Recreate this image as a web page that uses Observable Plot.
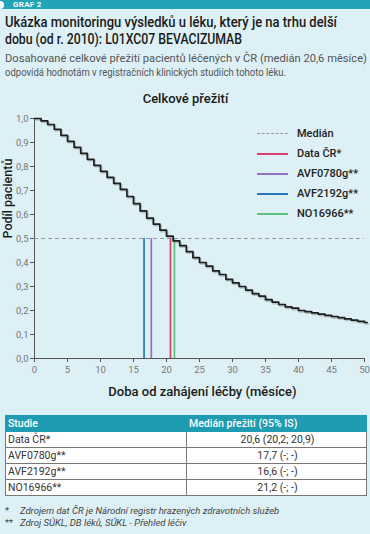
<!DOCTYPE html>
<html><head><meta charset="utf-8">
<script src="https://cdn.jsdelivr.net/npm/d3@7"></script>
<script src="https://cdn.jsdelivr.net/npm/@observablehq/plot@0.6"></script>
<style>
body{margin:0;}
#page{position:relative;width:370px;height:534px;background:#ddf0f5;overflow:hidden;font-family:Roboto,"DejaVu Sans Condensed",sans-serif;color:#1a1a1a;}
#bar{position:absolute;left:0;top:0;width:370px;height:9px;background:#22a3b6;}
#bar .dot{position:absolute;left:-4px;top:0.5px;width:8px;height:8px;border-radius:50%;background:#fff;}
#bar .t{position:absolute;left:13px;top:0;font-size:8px;line-height:9px;font-weight:bold;color:#fff;letter-spacing:0.3px;}
.fit{display:block;white-space:nowrap;transform-origin:0 50%;width:max-content;}
#title{position:absolute;left:5px;top:14px;font-size:14.5px;line-height:17px;font-weight:500;}
#sub{position:absolute;left:5px;top:52px;font-size:11px;line-height:14px;color:#555;}
#chart{position:absolute;left:0;top:82px;}
#legend{position:absolute;left:257px;top:126px;font-size:11px;font-weight:500;color:#222;}
#legend .row{position:relative;height:20px;}
#legend .ln{position:absolute;left:0;top:7px;width:31px;height:1.6px;}
#legend .dash{position:absolute;left:0;top:7px;width:31px;height:0;border-top:1px dashed #9a9a9a;}
#legend .lb{position:absolute;left:40px;top:0;line-height:15px;white-space:nowrap;}
#tbl{position:absolute;left:5px;top:415px;width:362px;border-collapse:collapse;font-size:10.5px;}
#tbl td,#tbl th{height:15px;padding:0 0 0 2px;border:1px solid #777;line-height:15px;}
#tbl th{background:#1f9cb1;color:#fff;text-align:left;font-weight:500;border-color:#1f9cb1;}
#tbl td{background:#fff;color:#333;}
#tbl td.v{text-align:center;}
#notes{position:absolute;left:5px;top:505px;font-size:9.5px;line-height:12px;font-style:italic;color:#444;}
#notes span{display:inline-block;width:15px;font-style:normal;}
</style></head><body>
<div id="page">
  <div id="bar"><div class="dot"></div><div class="t">GRAF 2</div></div>
  <div id="title"><span class="fit" data-w="332">Ukázka monitoringu výsledků u léku, který je na trhu delší</span><span class="fit" data-w="237">dobu (od r. 2010): L01XC07 BEVACIZUMAB</span></div>
  <div id="sub"><span class="fit" data-w="362">Dosahované celkové přežití pacientů léčených v ČR (medián 20,6 měsíce)</span><span class="fit" data-w="281">odpovídá hodnotám v registračních klinických studiích tohoto léku.</span></div>
  <div id="chart"></div>
  <div id="legend"></div>
  <table id="tbl"></table>
  <div id="notes"><span>*</span>Zdrojem dat ČR je Národní registr hrazených zdravotních služeb<br><span>**</span>Zdroj SÚKL, DB léků, SÚKL - Přehled léčiv</div>
</div>
<script>
// Survival curve (Kaplan–Meier, monthly steps)
const months = [0,1,2,3,4,5,6,7,8,9,10,11,12,13,14,15,16,17,18,19,20,21,22,23,24,25,26,27,28,29,30,31,32,33,34,35,36,37,38,39,40,41,42,43,44,45,46,47,48,49,50,50.4];
const survival = [1.00,0.99,0.975,0.955,0.93,0.905,0.88,0.855,0.83,0.805,0.78,0.755,0.73,0.705,0.675,0.645,0.615,0.585,0.56,0.535,0.51,0.49,0.47,0.445,0.42,0.40,0.385,0.365,0.35,0.33,0.315,0.30,0.285,0.27,0.26,0.245,0.235,0.225,0.215,0.21,0.20,0.195,0.19,0.185,0.18,0.175,0.17,0.165,0.16,0.155,0.15,0.15];
// Studies and median survival
const studies = ["Data ČR*","AVF0780g**","AVF2192g**","NO16966**"];
const medians = [20.6,17.7,16.6,21.2];
const medianText = ["20,6 (20,2; 20,9)","17,7 (-; -)","16,6 (-; -)","21,2 (-; -)"];
const colors = ["#d8416a","#9473c2","#2877c0","#5cc27a"];
const medianLevel = 0.5;
const xTicks = [0,5,10,15,20,25,30,35,40,45,50];
const yTicks = [0,0.1,0.2,0.3,0.4,0.5,0.6,0.7,0.8,0.9,1.0];

const curve = months.map((m,i)=>({m, s: survival[i]}));
const meds = studies.map((s,i)=>({study:s, median:medians[i], color:colors[i]}));
const fmt = d => d.toFixed(1).replace(".", ",");
const font = 'Roboto,"DejaVu Sans Condensed",sans-serif';

const chart = Plot.plot({
  width: 370, height: 323,
  marginLeft: 34, marginRight: 6, marginTop: 36, marginBottom: 47,
  style: {background: "transparent", fontFamily: font, fontSize: "10px", overflow: "visible"},
  x: {domain: [0,50]},
  y: {domain: [0,1]},
  marks: [
    Plot.axisY({ticks: yTicks, tickFormat: fmt, tickSize: 4, tickPadding: 2, stroke: "#555", fill: "#777", label: null, fontSize: 9.5}),
    Plot.axisX({ticks: xTicks, tickSize: 4, tickPadding: 4, stroke: "#555", fill: "#777", label: null, fontSize: 9.5}),
    Plot.ruleX([0], {y1: 0, y2: 1, stroke: "#555"}),
    Plot.ruleY([medianLevel], {stroke: "#9a9a9a", strokeDasharray: "4,3", strokeWidth: 1}),
    Plot.ruleX(meds, {x: "median", y1: 0, y2: medianLevel, stroke: "color", strokeWidth: 1.7}),
    Plot.line(curve, {x: "m", y: "s", curve: "step-after", stroke: "#8c9aa0", strokeWidth: 2, dx: 1, dy: 1.3, strokeOpacity: 0.55}),
    Plot.line(curve, {x: "m", y: "s", curve: "step-after", stroke: "#1e1e1e", strokeWidth: 1.7}),
    Plot.ruleY([0], {x1: 0, x2: 50, stroke: "#555"}),
    Plot.text(["Celkové přežití"], {frameAnchor: "top", dx: -14, dy: -25, fontSize: 13, fontWeight: 500, fill: "#1a1a1a"}),
    Plot.text(["Doba od zahájení léčby (měsíce)"], {frameAnchor: "bottom", dx: 3, dy: 37, fontSize: 13, fontWeight: 500, fill: "#1a1a1a"}),
    Plot.text(["Podíl pacientů"], {frameAnchor: "left", dx: -27, rotate: -90, fontSize: 12.5, fontWeight: 500, fill: "#1a1a1a"})
  ]
});
document.getElementById("chart").appendChild(chart);

// Legend
const leg = document.getElementById("legend");
const legItems = [{label:"Medián", color:"#9a9a9a", dash:true}].concat(meds.map(d=>({label:d.study, color:d.color})));
legItems.forEach(it=>{
  const r = document.createElement("div"); r.className="row";
  const l = document.createElement("div");
  if (it.dash) { l.className = "dash"; } else { l.className = "ln"; l.style.background = it.color; }
  const t = document.createElement("div"); t.className="lb"; t.textContent = it.label;
  r.appendChild(l); r.appendChild(t); leg.appendChild(r);
});

// Table
const tbl = document.getElementById("tbl");
let html = '<tr><th style="width:178px">Studie</th><th>Medián přežití (95% IS)</th></tr>';
studies.forEach((s,i)=>{ html += `<tr><td>${s}</td><td class="v">${medianText[i]}</td></tr>`; });
tbl.innerHTML = html;

// Fit condensed-looking lines to the reference widths
document.querySelectorAll(".fit").forEach(el=>{
  const w = el.getBoundingClientRect().width;
  const target = +el.dataset.w;
  if (w > 0) el.style.transform = `scaleX(${target / w})`;
});
</script>
</body></html>
